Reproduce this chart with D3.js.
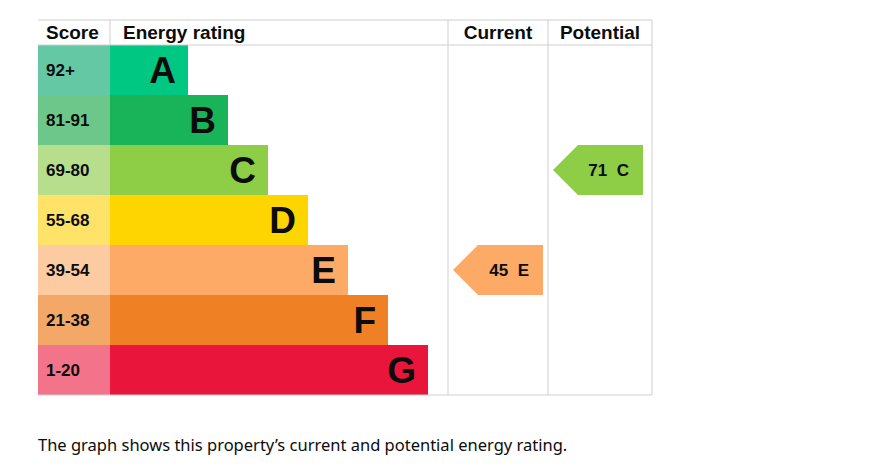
<!DOCTYPE html>
<html><head><meta charset="utf-8">
<script src="https://cdn.jsdelivr.net/npm/d3@7"></script>
<style>body{margin:0;background:#fff}</style>
</head><body>
<svg id="chart" width="877" height="468"></svg>
<script>
let bands = ["A","B","C","D","E","F","G"];
let scores = ["92+","81-91","69-80","55-68","39-54","21-38","1-20"];
let barColors = ["#00c781","#19b459","#8dce46","#ffd500","#fcaa65","#ef8023","#e9153b"];
let scoreColors = ["#64c8a4","#6dc78a","#b6de8c","#ffe368","#fdcba1","#f4a867","#f2738a"];
let current = {score: 45, band: "E"};
let potential = {score: 71, band: "C"};

let svg = d3.select("#chart");
let left = 38, right = 652, topY = 20, headH = 25;
let scoreW = 72, curX = 448, potX = 548;

let y = d3.scaleBand().domain(bands).range([topY + headH, topY + headH + 350]);
let barEnd = d3.scaleLinear().domain([0, 6]).range([188, 428]);

// bars
svg.selectAll(".score").data(bands).join("rect").attr("class", "score")
    .attr("x", left).attr("y", d => y(d))
    .attr("width", scoreW).attr("height", y.bandwidth())
    .attr("fill", (d, i) => scoreColors[i]);
svg.selectAll(".bar").data(bands).join("rect").attr("class", "bar")
    .attr("x", left + scoreW).attr("y", d => y(d))
    .attr("width", (d, i) => barEnd(i) - left - scoreW).attr("height", y.bandwidth())
    .attr("fill", (d, i) => barColors[i]);
svg.selectAll(".scoretxt").data(scores).join("text").attr("class", "scoretxt")
    .attr("x", left + 8).attr("y", (d, i) => y(bands[i]) + y.bandwidth() / 2 + 6)
    .style("font-family", "Liberation Sans, Arial").style("font-weight", "bold")
    .style("font-size", "17px").attr("fill", "#0b0c0c").text(d => d);
svg.selectAll(".lettxt").data(bands).join("text").attr("class", "lettxt")
    .attr("x", (d, i) => barEnd(i) - 12).attr("y", d => y(d) + y.bandwidth() / 2 + 13)
    .attr("text-anchor", "end")
    .style("font-family", "Liberation Sans, Arial").style("font-weight", "bold")
    .style("font-size", "37px").attr("fill", "#0b0c0c").text(d => d);

// grid lines
let grid = "#cfcfcf";
let bottom = topY + headH + 350;
[[left, topY, right, topY], [left, topY + headH, right, topY + headH], [left, bottom, right, bottom],
 [right, topY, right, bottom], [curX, topY, curX, bottom], [potX, topY, potX, bottom],
 [left + scoreW, topY, left + scoreW, topY + headH]].forEach(l => {
    svg.append("line").attr("x1", l[0]).attr("y1", l[1]).attr("x2", l[2]).attr("y2", l[3])
        .attr("stroke", grid).attr("stroke-width", 1);
});

// headers
[["Score", left + 8, "start"], ["Energy rating", left + scoreW + 13, "start"],
 ["Current", (curX + potX) / 2, "middle"], ["Potential", (potX + right) / 2, "middle"]].forEach(h => {
    svg.append("text").attr("x", h[1]).attr("y", topY + 19).attr("text-anchor", h[2])
        .style("font-family", "Liberation Sans, Arial").style("font-weight", "bold")
        .style("font-size", "19px").attr("fill", "#0b0c0c").text(h[0]);
});

// arrows
function arrow(r, x0, x1) {
    let i = bands.indexOf(r.band);
    let yt = y(r.band), h = y.bandwidth(), tip = 25;
    svg.append("path")
        .attr("d", `M${x0},${yt + h / 2} L${x0 + tip},${yt} L${x1},${yt} L${x1},${yt + h} L${x0 + tip},${yt + h} Z`)
        .attr("fill", barColors[i]);
    svg.append("text").attr("x", x1 - 14).attr("y", yt + h / 2 + 6).attr("text-anchor", "end")
        .style("font-family", "Liberation Sans, Arial").style("font-weight", "bold")
        .style("font-size", "17px").attr("fill", "#0b0c0c")
        .attr("xml:space", "preserve").text(r.score + "  " + r.band);
}
arrow(current, curX + 5, potX - 5);
arrow(potential, potX + 5, right - 9);

svg.append("text").attr("x", left).attr("y", 451)
    .style("font-family", "Noto Sans, Arial").style("font-size", "16.5px").attr("fill", "#0b0c0c")
    .text("The graph shows this property\u2019s current and potential energy rating.");
</script>
</body></html>
